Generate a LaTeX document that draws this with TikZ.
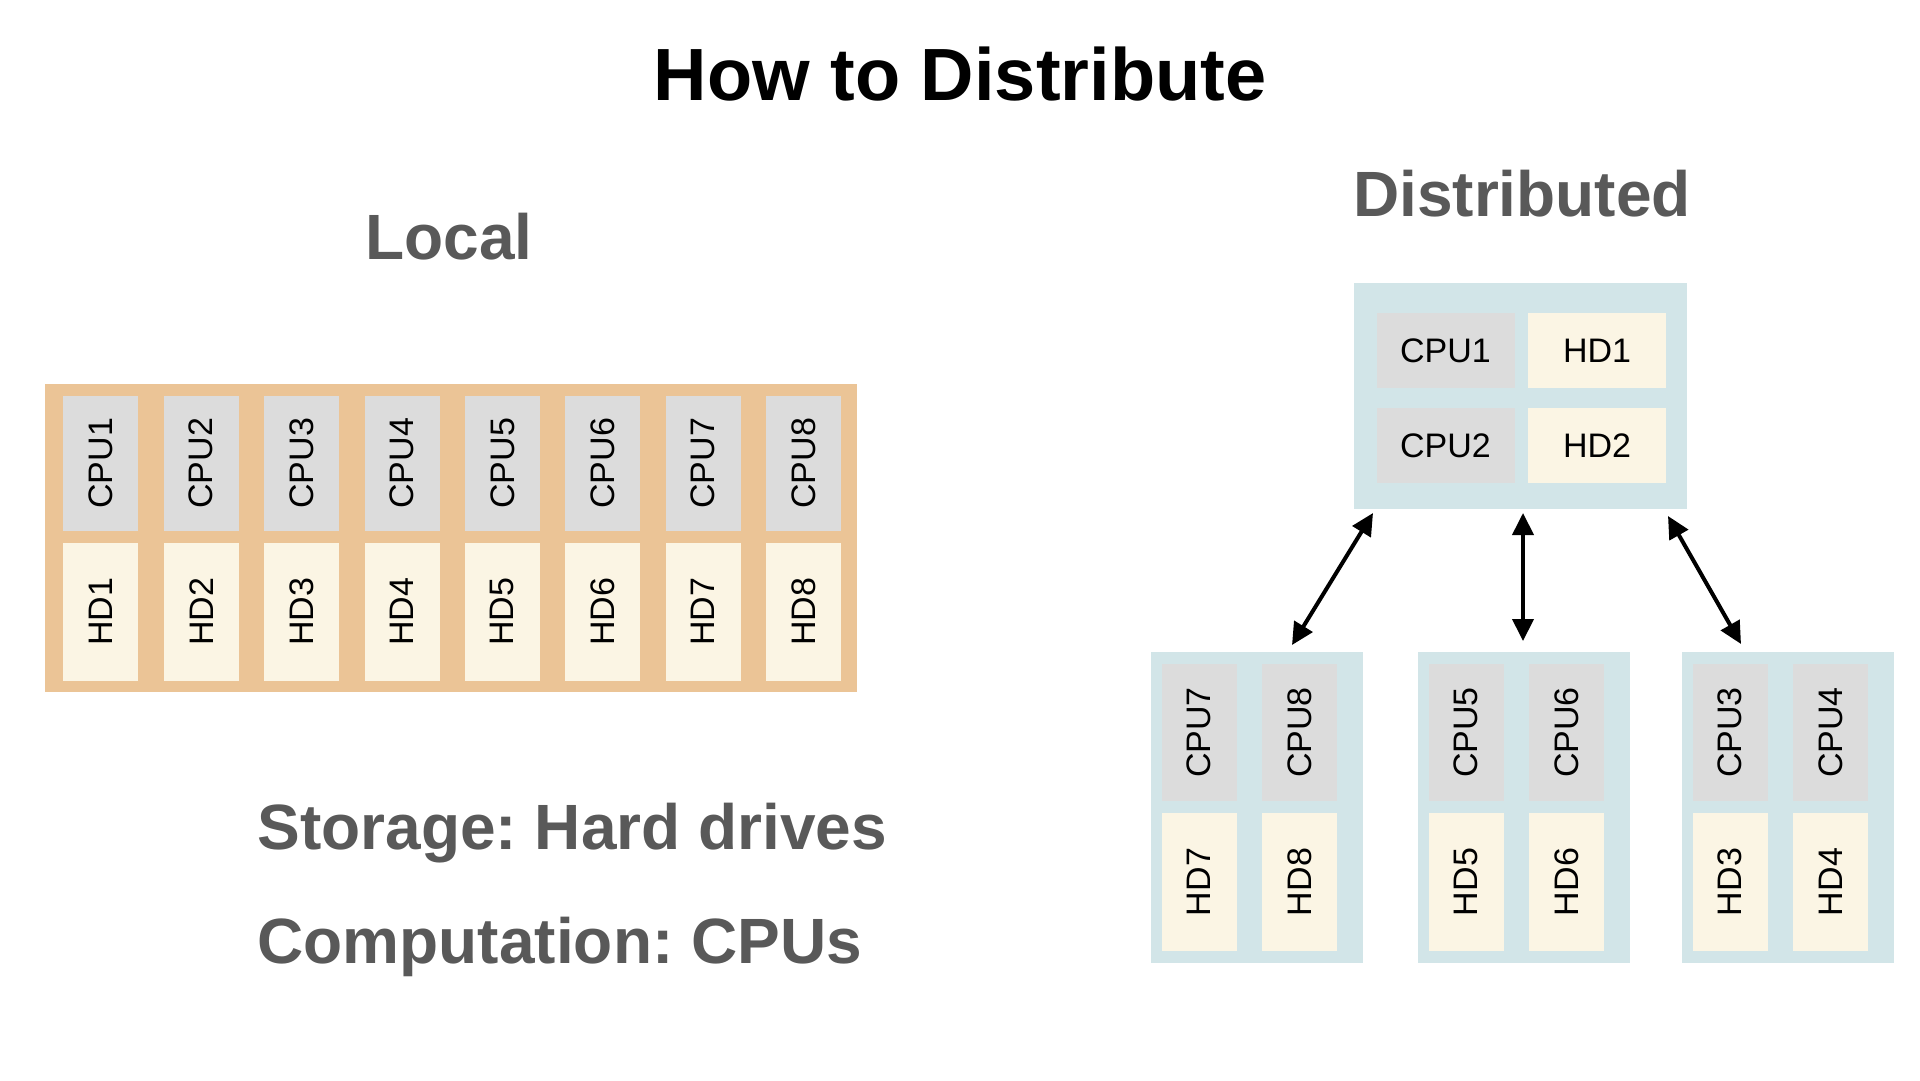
\documentclass[tikz,border=0pt]{standalone}
\usepackage{fontspec}
\setmainfont{Liberation Sans}
\usetikzlibrary{arrows.meta,calc}
\frenchspacing
\definecolor{orangebg}{RGB}{235,196,150}
\definecolor{bluebg}{RGB}{210,229,232}
\definecolor{cpugray}{RGB}{220,220,220}
\definecolor{hdcream}{RGB}{251,245,228}
\definecolor{titlegray}{RGB}{89,89,89}
\tikzset{
  cellfont/.style={font=\fontsize{34}{40}\selectfont, text=black},
  cpucell/.style={fill=cpugray, inner sep=0pt},
  hdcell/.style={fill=hdcream, inner sep=0pt},
  cpuh/.style={cellfont, cpucell, minimum width=138pt, minimum height=75pt},
  hdh/.style={cellfont, hdcell, minimum width=138pt, minimum height=75pt},
  vtext/.style={cellfont, rotate=90},
  localbox/.style={fill=orangebg, inner sep=0pt, minimum width=812pt, minimum height=308pt},
  nodebox/.style={fill=bluebg, inner sep=0pt},
  heading/.style={font=\fontsize{64}{76}\selectfont\bfseries, text=titlegray, anchor=base},
  note/.style={font=\fontsize{64}{76}\selectfont\bfseries, text=titlegray, anchor=base west},
  link/.style={line width=4pt, {Triangle[length=22pt,width=21pt]}-{Triangle[length=22pt,width=21pt]}},
}
\begin{document}
\begin{tikzpicture}[x=1pt,y=1pt]
\useasboundingbox (0,0) rectangle (1920,-1080);
\fill[white] (0,0) rectangle (1920,-1080);

% Title
\node[font=\fontsize{74}{88}\selectfont\bfseries, anchor=base] (title) at (960,-100) {How to Distribute};

% Local
\node[heading] (localhd) at (449,-259) {Local};
\node[localbox] (localbg) at (451,-538) {};
\foreach \i in {1,...,8} {
  \pgfmathsetmacro{\cx}{100.8+100.4*(\i-1)}
  \node[cpucell, minimum width=75pt, minimum height=135pt] (lc\i) at (\cx,-463.2) {};
  \node[vtext] (lct\i) at (lc\i.center) {CPU\i};
  \node[hdcell, minimum width=75pt, minimum height=138pt] (lh\i) at (\cx,-611.7) {};
  \node[vtext] (lht\i) at (lh\i.center) {HD\i};
}

\node[note] (storage) at (254,-849) {Storage: Hard drives};
\node[note] (comput) at (254,-963) {Computation: CPUs};

% Distributed
\node[heading] (disthd) at (1522,-216) {Distributed};
\node[nodebox, minimum width=333pt, minimum height=226pt] (top) at (1520.5,-396) {};
\node[cpuh] (tc1) at (1445.5,-350.5) {CPU1};
\node[hdh] (th1) at (1597,-350.5) {HD1};
\node[cpuh] (tc2) at (1445.5,-445.5) {CPU2};
\node[hdh] (th2) at (1597,-445.5) {HD2};

% bottom machines
\foreach \nm/\bx/\a/\b in {b1/1151/7/8, b2/1418/5/6, b3/1682/3/4} {
  \node[nodebox, minimum width=212pt, minimum height=311pt] (\nm) at ({\bx+106},-807.5) {};
  \node[cpucell, minimum width=75pt, minimum height=137pt] (\nm ca) at ({\bx+48},-732.5) {};
  \node[vtext] (\nm cat) at (\nm ca.center) {CPU\a};
  \node[cpucell, minimum width=75pt, minimum height=137pt] (\nm cb) at ({\bx+148.5},-732.5) {};
  \node[vtext] (\nm cbt) at (\nm cb.center) {CPU\b};
  \node[hdcell, minimum width=75pt, minimum height=138pt] (\nm ha) at ({\bx+48},-882) {};
  \node[vtext] (\nm hat) at (\nm ha.center) {HD\a};
  \node[hdcell, minimum width=75pt, minimum height=138pt] (\nm hb) at ({\bx+148.5},-882) {};
  \node[vtext] (\nm hbt) at (\nm hb.center) {HD\b};
}

% arrows
\coordinate (p1a) at (1373,-513);
\coordinate (p1b) at (1292,-645);
\coordinate (p2a) at (1523,-513);
\coordinate (p2b) at (1523,-641);
\coordinate (p3a) at (1668,-516);
\coordinate (p3b) at (1741,-644);
\draw[link] (p1a) -- (p1b);
\draw[link] (p2a) -- (p2b);
\draw[link] (p3a) -- (p3b);
\end{tikzpicture}
\end{document}
